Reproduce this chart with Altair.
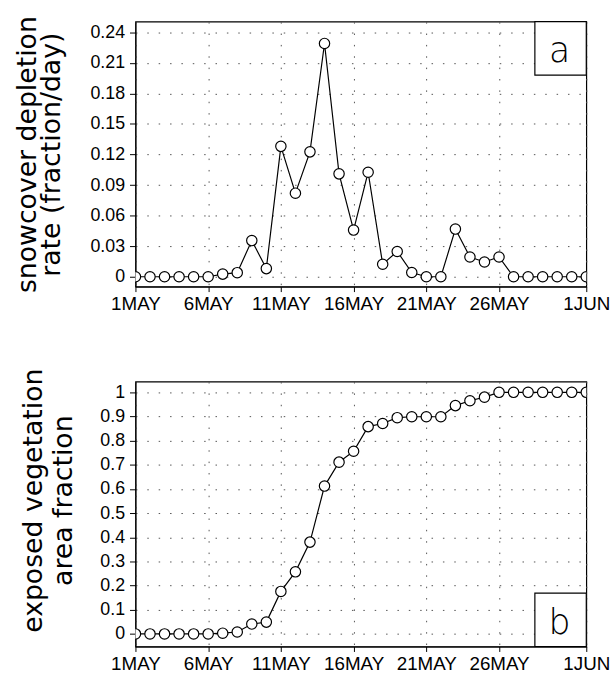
import altair as alt
import pandas as pd

# ---- data ----
dates = [f"1996-05-{d:02d}" for d in range(1, 32)] + ["1996-06-01"]
depletion_rate = [0, 0, 0, 0, 0, 0, 0.0026, 0.004, 0.0355, 0.008, 0.128, 0.082,
                  0.1226, 0.229, 0.101, 0.0458, 0.1026, 0.0123, 0.0248, 0.0042,
                  0, 0, 0.0468, 0.0194, 0.0145, 0.0194, 0, 0, 0, 0, 0, 0]
veg_fraction = [0, 0, 0, 0, 0, 0, 0.003, 0.008, 0.041, 0.049, 0.176, 0.257,
                0.38, 0.612, 0.711, 0.756, 0.858, 0.871, 0.895, 0.899, 0.899,
                0.899, 0.945, 0.965, 0.98, 1, 1, 1, 1, 1, 1, 1]
x_tick_days = [(5, 1), (5, 6), (5, 11), (5, 16), (5, 21), (5, 26), (6, 1)]
top_ticks = [0, 0.03, 0.06, 0.09, 0.12, 0.15, 0.18, 0.21, 0.24]
bottom_ticks = [0, 0.1, 0.2, 0.3, 0.4, 0.5, 0.6, 0.7, 0.8, 0.9, 1]
panel_letters = ["a", "b"]
top_title = ["snowcover depletion", "rate (fraction/day)"]
bottom_title = ["exposed vegetation", "area fraction"]

df = pd.DataFrame({"date": dates, "rate": depletion_rate, "veg": veg_fraction})

W, H = 456, 268
GRID = dict(grid=True, gridDash=[1.5, 10], gridColor="#555", gridWidth=1)

x_axis = alt.Axis(
    values=[alt.DateTime(year=1996, month=m, date=d) for m, d in x_tick_days],
    labelExpr="upper(timeFormat(datum.value, '%-d%b'))",
    title=None, labelFlush=False, labelOverlap=False,
    labelFont="Liberation Sans Narrow, Liberation Sans", labelFontSize=19,
    labelColor="black", labelPadding=3,
    tickSize=5, tickColor="black", domainColor="black", **GRID)

x_enc = alt.X("date:T", axis=x_axis,
              scale=alt.Scale(domain=[alt.DateTime(year=1996, month=5, date=1),
                                      alt.DateTime(year=1996, month=6, date=1)]))


def y_axis(ticks, fmt, title, tx, ty, lh):
    return alt.Axis(values=ticks, format=fmt, title=title,
                    labelFont="Liberation Sans", labelFontSize=18,
                    labelColor="black", labelPadding=5,
                    tickSize=6, tickColor="black", domainColor="black",
                    titleFont="DejaVu Sans", titleFontSize=27,
                    titleFontWeight="normal", titleColor="black",
                    titleAngle=270, titleAlign="center",
                    titleBaseline="alphabetic", titleX=tx, titleY=ty,
                    titleLineHeight=lh, **GRID)


def panel(field, domain, ticks, fmt, title, tx, ty, lh, letter, box_y, text_y):
    base = alt.Chart(df).encode(
        x=x_enc,
        y=alt.Y(f"{field}:Q", axis=y_axis(ticks, fmt, title, tx, ty, lh),
                scale=alt.Scale(domain=domain, nice=False, zero=False)))
    line = base.mark_line(color="black", strokeWidth=1.2, clip=True)
    pts = base.mark_point(shape="circle", size=110, filled=True, fill="white",
                          stroke="black", strokeWidth=1.2, opacity=1, clip=True)
    lab = pd.DataFrame({"letter": [letter]})
    box = alt.Chart(lab).mark_rect(fill="white", stroke="black",
                                   strokeWidth=1.2).encode(
        x=alt.value(404), x2=alt.value(W), y=alt.value(box_y[0]),
        y2=alt.value(box_y[1]))
    txt = alt.Chart(lab).mark_text(font="DejaVu Sans", fontSize=35,
                                   fontWeight=300, baseline="alphabetic",
                                   align="center", color="black").encode(
        text="letter:N", x=alt.value(429), y=alt.value(text_y))
    return alt.layer(line, pts, box, txt).properties(width=W, height=H)


top = panel("rate", [-0.0097, 0.2504], top_ticks, ".2~f", top_title,
            -101, H / 2, 24, panel_letters[0], (0, 54), 41)
bottom = panel("veg", [-0.052, 1.0446], bottom_ticks, ".1~f", bottom_title,
               -95, H / 2 - 14, 30, panel_letters[1], (214, H), 255)

chart = alt.vconcat(top, bottom, spacing=96, bounds="flush").configure_view(
    stroke="black", strokeWidth=1.2
).properties(
    background="white",
    padding={"left": 13, "top": 11, "right": 0, "bottom": 5},
)

chart.save("out.html", embed_options={"renderer": "svg", "actions": False})
